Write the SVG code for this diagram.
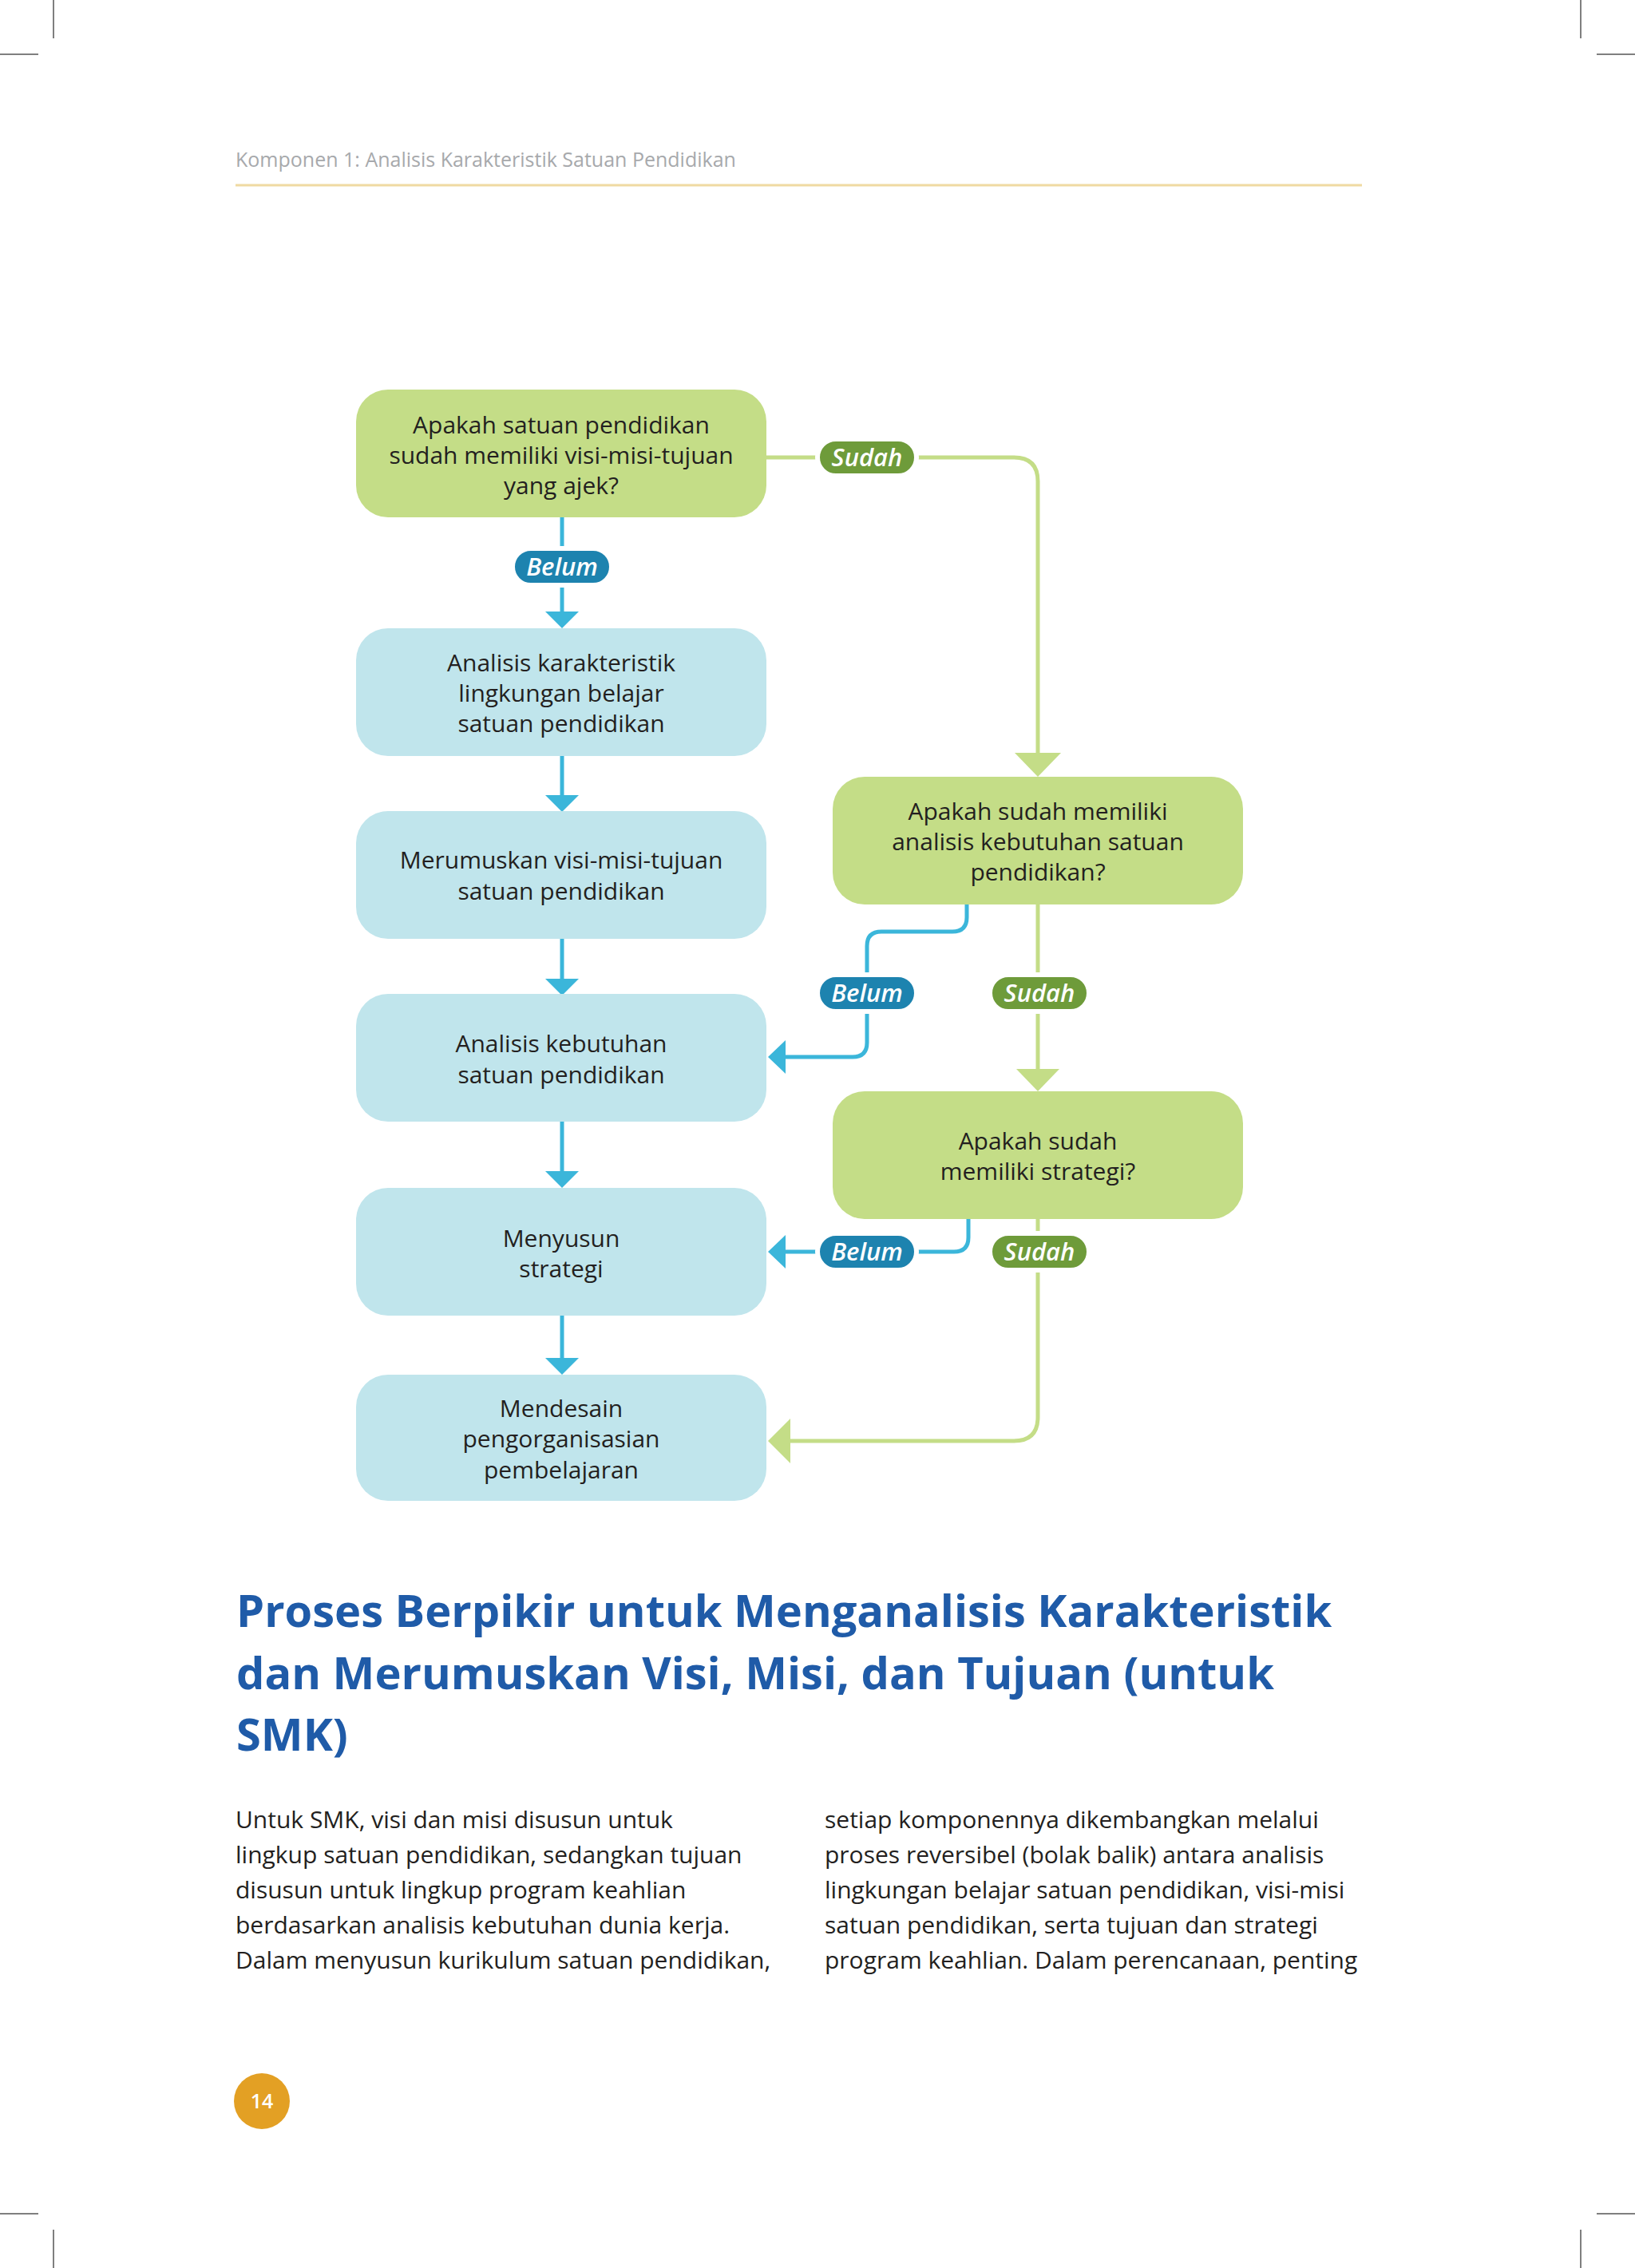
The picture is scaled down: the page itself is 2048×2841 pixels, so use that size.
<svg xmlns="http://www.w3.org/2000/svg" width="2048" height="2841" viewBox="0 0 2048 2841">
<style>
  .bx-g { fill: #C4DD87; }
  .bx-b { fill: #C0E5EC; }
  .nt { font-family: "Open Sans", "Noto Sans", sans-serif; font-size: 30px; fill: #231F20; text-anchor: middle; }
  .ln-b { fill: none; stroke: #3BB6DA; stroke-width: 5; }
  .ln-g { fill: none; stroke: #C4DD87; stroke-width: 5; }
  .ah-b { fill: #3BB6DA; }
  .ah-g { fill: #C4DD87; }
  .pill-b { fill: #1D83AF; stroke: #FFFFFF; stroke-width: 6; }
  .pill-g { fill: #6E9B3A; stroke: #FFFFFF; stroke-width: 6; }
  .pt { font-family: "Open Sans", "Noto Sans", sans-serif; font-size: 31px; font-style: italic; font-weight: 600; fill: #FFFFFF; text-anchor: middle; }
  .body { font-family: "Open Sans", "Noto Sans", sans-serif; font-size: 30px; fill: #231F20; }
  .title { font-family: "Open Sans", "Noto Sans", sans-serif; font-size: 56px; font-weight: bold; fill: #1F5BA8; }
  .crop { stroke: #555555; stroke-width: 1.5; }
</style>
<rect x="0" y="0" width="2048" height="2841" fill="#FFFFFF"/>

<g id="crop-marks">
  <line class="crop" x1="67" y1="0" x2="67" y2="48"/>
  <line class="crop" x1="0" y1="68" x2="48" y2="68"/>
  <line class="crop" x1="1980" y1="0" x2="1980" y2="48"/>
  <line class="crop" x1="2000" y1="68" x2="2048" y2="68"/>
  <line class="crop" x1="67" y1="2793" x2="67" y2="2841"/>
  <line class="crop" x1="0" y1="2773" x2="48" y2="2773"/>
  <line class="crop" x1="1980" y1="2793" x2="1980" y2="2841"/>
  <line class="crop" x1="2000" y1="2773" x2="2048" y2="2773"/>
</g>

<g id="header">
  <text x="295" y="209" font-family="Open Sans, Noto Sans, sans-serif" font-size="25" fill="#A7A9AC">Komponen 1: Analisis Karakteristik Satuan Pendidikan</text>
  <line x1="295" y1="232" x2="1706" y2="232" stroke="#EFDAA2" stroke-width="3"/>
</g>

<g id="connectors">
  <path class="ln-b" d="M704 648 V767"/>
  <polygon class="ah-b" points="683,766 725,766 704,787"/>
  <path class="ln-b" d="M704 947 V997"/>
  <polygon class="ah-b" points="683,996 725,996 704,1017"/>
  <path class="ln-b" d="M704 1176 V1227"/>
  <polygon class="ah-b" points="683,1226 725,1226 704,1247"/>
  <path class="ln-b" d="M704 1405 V1468"/>
  <polygon class="ah-b" points="683,1467 725,1467 704,1488"/>
  <path class="ln-b" d="M704 1648 V1702"/>
  <polygon class="ah-b" points="683,1701 725,1701 704,1722"/>

  <path class="ln-g" d="M960 573 H1270 Q1300 573 1300 603 V944"/>
  <polygon class="ah-g" points="1271,943 1329,943 1300,973"/>
  <path class="ln-g" d="M1300 1133 V1340"/>
  <polygon class="ah-g" points="1273,1339 1327,1339 1300,1367"/>
  <path class="ln-g" d="M1300 1527 V1775 Q1300 1805 1270 1805 H989"/>
  <polygon class="ah-g" points="990,1777 990,1833 962,1805"/>

  <path class="ln-b" d="M1211 1133 V1149 Q1211 1167 1193 1167 H1104 Q1086 1167 1086 1185 V1306 Q1086 1324 1068 1324 H982"/>
  <polygon class="ah-b" points="984,1303 984,1345 962,1324"/>
  <path class="ln-b" d="M1213 1527 V1550 Q1213 1568 1195 1568 H982"/>
  <polygon class="ah-b" points="984,1547 984,1589 962,1568"/>
</g>

<g id="labels">
  <g id="lbl-sudah-1"><rect class="pill-g" x="1024" y="550" width="124" height="46" rx="23"/><text class="pt" x="1086" y="584">Sudah</text></g>
  <g id="lbl-belum-1"><rect class="pill-b" x="642" y="687" width="124" height="46" rx="23"/><text class="pt" x="704" y="721">Belum</text></g>
  <g id="lbl-belum-2"><rect class="pill-b" x="1024" y="1221" width="124" height="46" rx="23"/><text class="pt" x="1086" y="1255">Belum</text></g>
  <g id="lbl-sudah-2"><rect class="pill-g" x="1240" y="1221" width="124" height="46" rx="23"/><text class="pt" x="1302" y="1255">Sudah</text></g>
  <g id="lbl-belum-3"><rect class="pill-b" x="1024" y="1545" width="124" height="46" rx="23"/><text class="pt" x="1086" y="1579">Belum</text></g>
  <g id="lbl-sudah-3"><rect class="pill-g" x="1240" y="1545" width="124" height="46" rx="23"/><text class="pt" x="1302" y="1579">Sudah</text></g>
</g>

<g id="node-q1">
  <rect class="bx-g" x="446" y="488" width="514" height="160" rx="40"/>
  <text class="nt" x="703" y="543">Apakah satuan pendidikan</text>
  <text class="nt" x="703" y="581">sudah memiliki visi-misi-tujuan</text>
  <text class="nt" x="703" y="619">yang ajek?</text>
</g>
<g id="node-analisis-karakteristik">
  <rect class="bx-b" x="446" y="787" width="514" height="160" rx="40"/>
  <text class="nt" x="703" y="841">Analisis karakteristik</text>
  <text class="nt" x="703" y="879">lingkungan belajar</text>
  <text class="nt" x="703" y="917">satuan pendidikan</text>
</g>
<g id="node-merumuskan">
  <rect class="bx-b" x="446" y="1016" width="514" height="160" rx="40"/>
  <text class="nt" x="703" y="1088">Merumuskan visi-misi-tujuan</text>
  <text class="nt" x="703" y="1127">satuan pendidikan</text>
</g>
<g id="node-analisis-kebutuhan">
  <rect class="bx-b" x="446" y="1245" width="514" height="160" rx="40"/>
  <text class="nt" x="703" y="1318">Analisis kebutuhan</text>
  <text class="nt" x="703" y="1357">satuan pendidikan</text>
</g>
<g id="node-menyusun">
  <rect class="bx-b" x="446" y="1488" width="514" height="160" rx="40"/>
  <text class="nt" x="703" y="1562">Menyusun</text>
  <text class="nt" x="703" y="1600">strategi</text>
</g>
<g id="node-mendesain">
  <rect class="bx-b" x="446" y="1722" width="514" height="158" rx="40"/>
  <text class="nt" x="703" y="1775">Mendesain</text>
  <text class="nt" x="703" y="1813">pengorganisasian</text>
  <text class="nt" x="703" y="1852">pembelajaran</text>
</g>
<g id="node-q2">
  <rect class="bx-g" x="1043" y="973" width="514" height="160" rx="40"/>
  <text class="nt" x="1300" y="1027">Apakah sudah memiliki</text>
  <text class="nt" x="1300" y="1065">analisis kebutuhan satuan</text>
  <text class="nt" x="1300" y="1103">pendidikan?</text>
</g>
<g id="node-q3">
  <rect class="bx-g" x="1043" y="1367" width="514" height="160" rx="40"/>
  <text class="nt" x="1300" y="1440">Apakah sudah</text>
  <text class="nt" x="1300" y="1478">memiliki strategi?</text>
</g>

<g id="title">
  <text class="title" x="296" y="2038">Proses Berpikir untuk Menganalisis Karakteristik</text>
  <text class="title" x="296" y="2116">dan Merumuskan Visi, Misi, dan Tujuan (untuk</text>
  <text class="title" x="296" y="2193">SMK)</text>
</g>

<g id="body-left">
  <text class="body" x="295" y="2290">Untuk SMK, visi dan misi disusun untuk</text>
  <text class="body" x="295" y="2334">lingkup satuan pendidikan, sedangkan tujuan</text>
  <text class="body" x="295" y="2378">disusun untuk lingkup program keahlian</text>
  <text class="body" x="295" y="2422">berdasarkan analisis kebutuhan dunia kerja.</text>
  <text class="body" x="295" y="2466">Dalam menyusun kurikulum satuan pendidikan,</text>
</g>
<g id="body-right">
  <text class="body" x="1033" y="2290">setiap komponennya dikembangkan melalui</text>
  <text class="body" x="1033" y="2334">proses reversibel (bolak balik) antara analisis</text>
  <text class="body" x="1033" y="2378">lingkungan belajar satuan pendidikan, visi-misi</text>
  <text class="body" x="1033" y="2422">satuan pendidikan, serta tujuan dan strategi</text>
  <text class="body" x="1033" y="2466">program keahlian. Dalam perencanaan, penting</text>
</g>

<g id="page-number">
  <circle cx="328" cy="2632" r="35" fill="#E3A024"/>
  <text x="328" y="2641" font-family="Open Sans, Noto Sans, sans-serif" font-size="25" font-weight="600" fill="#FFFFFF" text-anchor="middle">14</text>
</g>
</svg>
